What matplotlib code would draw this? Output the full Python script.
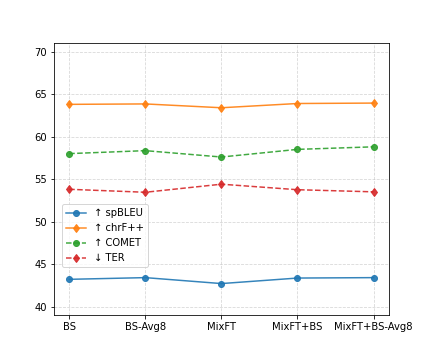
import matplotlib
matplotlib.use("Agg")
import matplotlib.pyplot as plt

systems = ["BS", "BS-Avg8", "MixFT", "MixFT+BS", "MixFT+BS-Avg8"]
spbleu = [43.2, 43.4, 42.7, 43.35, 43.4]
chrf = [63.8, 63.85, 63.4, 63.9, 63.95]
comet = [58.0, 58.35, 57.6, 58.5, 58.8]
ter = [53.8, 53.45, 54.4, 53.75, 53.5]
labels = ["↑ spBLEU", "↑ chrF++", "↑ COMET", "↓ TER"]

fig, ax = plt.subplots(figsize=(6, 5), dpi=72)
fig.subplots_adjust(left=0.125, right=0.9, top=0.88, bottom=0.125)
x = range(len(systems))
ax.plot(x, spbleu, marker="o", linestyle="-", color="#1f77b4", label=labels[0], markersize=6, alpha=0.9)
ax.plot(x, chrf, marker="d", linestyle="-", color="#ff7f0e", label=labels[1], markersize=6, alpha=0.9)
ax.plot(x, comet, marker="o", linestyle="--", color="#2ca02c", label=labels[2], markersize=6, alpha=0.9)
ax.plot(x, ter, marker="d", linestyle="--", color="#d62728", label=labels[3], markersize=6, alpha=0.9)
ax.set_xticks(list(x))
ax.set_xticklabels(systems)
ax.set_ylim(39, 71)
ax.set_yticks([40, 45, 50, 55, 60, 65, 70])
ax.set_xlim(-0.2, 4.2)
ax.grid(True, linestyle="--", alpha=0.5)
ax.legend(loc="lower left", bbox_to_anchor=(0.024, 0.176), borderaxespad=0)
fig.savefig("out.png", dpi=72)
